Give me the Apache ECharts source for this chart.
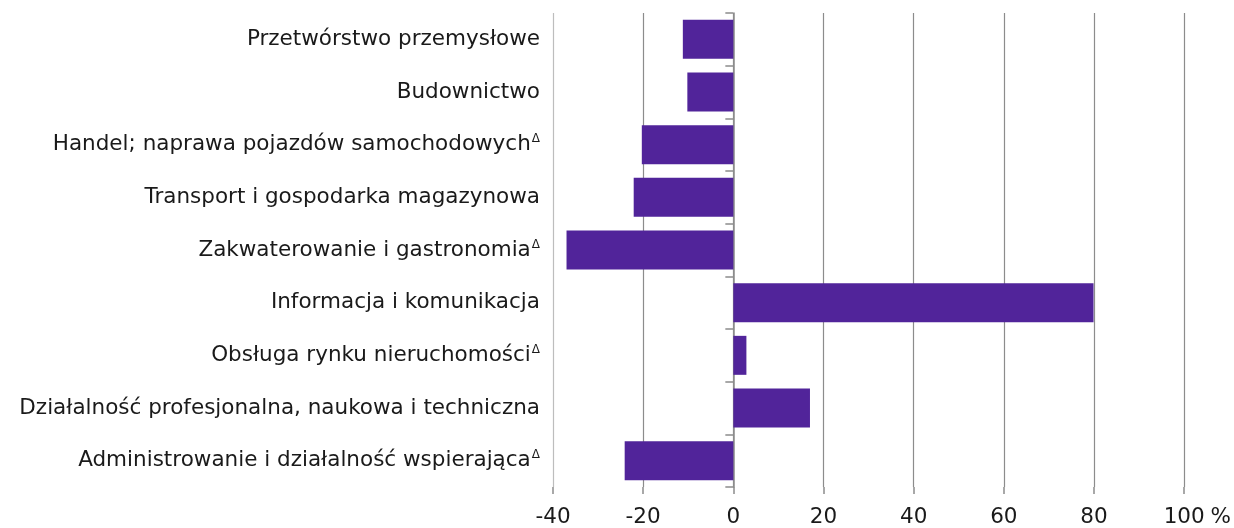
<!DOCTYPE html>
<html><head><meta charset="utf-8">
<script src="https://cdn.jsdelivr.net/npm/echarts@6/dist/echarts.min.js"></script>
<style>html,body{margin:0;padding:0;background:#fff}#c{width:1234px;height:528px}</style>
</head><body><div id="c"></div>
<script>
const categories = [
  'Przetwórstwo przemysłowe',
  'Budownictwo',
  'Handel; naprawa pojazdów samochodowych',
  'Transport i gospodarka magazynowa',
  'Zakwaterowanie i gastronomia',
  'Informacja i komunikacja',
  'Obsługa rynku nieruchomości',
  'Działalność profesjonalna, naukowa i techniczna',
  'Administrowanie i działalność wspierająca'
];
const marked = [false, false, true, false, true, false, true, false, true];
const values = [-11.2, -10.2, -20.3, -22.1, -37.0, 79.9, 2.9, 17.0, -24.1];
const xTicks = { min: -40, max: 100, interval: 20 };
const FONT = 'DejaVu Sans';
const FS = 21.5;
const chart = echarts.init(document.getElementById('c'));
chart.setOption({
  animation: false,
  grid: { left: 553, right: 48, top: 13, bottom: 39 },
  xAxis: {
    type: 'value', min: xTicks.min, max: xTicks.max, interval: xTicks.interval,
    name: '%', nameLocation: 'end', nameGap: 17,
    nameTextStyle: { fontFamily: FONT, fontSize: FS, color: '#1a1a1a', verticalAlign: 'top', padding: [19, 0, 0, 0] },
    axisLine: { onZero: false, lineStyle: { color: '#8c8c8c', width: 1.5 } },
    axisTick: { show: true, length: 7, lineStyle: { color: '#8c8c8c', width: 1.5 } },
    axisLabel: { fontFamily: FONT, fontSize: FS, color: '#1a1a1a', margin: 19 },
    splitLine: { show: true, lineStyle: { color: ['#bdbdbd', '#8c8c8c', '#8c8c8c', '#8c8c8c', '#8c8c8c', '#8c8c8c', '#8c8c8c', '#8c8c8c'], width: 1.2 } }
  },
  yAxis: [{
    type: 'category', data: categories, inverse: true,
    axisLine: { show: false, onZero: false }, axisTick: { show: false },
    axisLabel: {
      fontFamily: FONT, fontSize: FS, color: '#1a1a1a', margin: 13,
      formatter: (v, i) => marked[i] ? v + '{s|Δ}' : v,
      rich: { s: { fontFamily: FONT, fontSize: 12, color: '#1a1a1a', verticalAlign: 'top', padding: [0, 0, 11, 1] } }
    }
  }, {
    type: 'category', data: categories, inverse: true, position: 'left',
    axisLine: { show: true, onZero: true, onZeroAxisIndex: 0, lineStyle: { color: '#8c8c8c', width: 1.5 } },
    axisTick: { show: true, length: 8, lineStyle: { color: '#8c8c8c', width: 1.5 } },
    axisLabel: { show: false }
  }],
  series: [{
    type: 'bar', data: values, yAxisIndex: 0, barCategoryGap: '26%',
    itemStyle: { color: '#51249a' }
  }]
});
</script></body></html>
